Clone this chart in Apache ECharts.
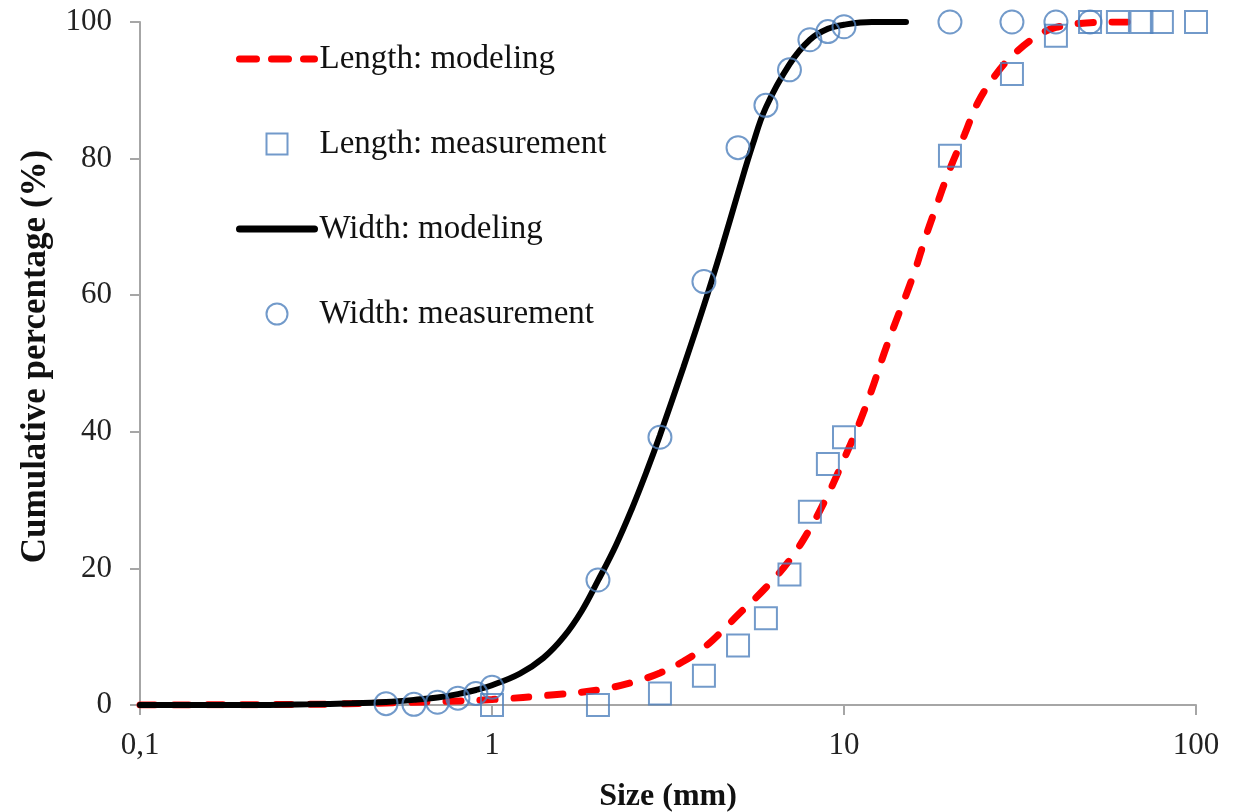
<!DOCTYPE html>
<html>
<head>
<meta charset="utf-8">
<title>Cumulative size distribution</title>
<script src="https://cdn.jsdelivr.net/npm/echarts@6/dist/echarts.min.js"></script>
<style>
  html, body { margin: 0; padding: 0; background: #fff; }
  #chart { width: 1243px; height: 812px; }
</style>
</head>
<body>
<div id="chart"></div>
<script>
// Measured cumulative percentages (size in mm)
const lengthMeasSize = [1, 2, 3, 4, 5, 6, 7, 8, 9, 10, 20, 30, 40, 50, 60, 70, 80, 100];
const lengthMeasPct  = [0, 0, 1.7, 4.3, 8.7, 12.7, 19.1, 28.3, 35.3, 39.2, 80.4, 92.4, 98, 100, 100, 100, 100, 100];

const widthMeasSize = [0.5, 0.6, 0.7, 0.8, 0.9, 1, 2, 3, 4, 5, 6, 7, 8, 9, 10, 20, 30, 40, 50];
const widthMeasPct  = [0.2, 0.1, 0.4, 1.0, 1.7, 2.6, 18.3, 39.2, 62.0, 81.6, 87.8, 93.0, 97.4, 98.6, 99.3, 100, 100, 100, 100];

// Modeled cumulative curves
const lengthModelSize = [0.1, 0.3, 0.5, 0.7, 1, 1.5, 2, 2.5, 3, 3.5, 4, 4.5, 5, 6, 7, 8, 9, 10, 11, 12, 13, 14, 15, 16, 17, 18, 20, 22, 24, 27, 30, 35, 40, 50, 60, 70];
const lengthModelPct  = [0, 0.1, 0.3, 0.5, 0.8, 1.5, 2.2, 3.3, 4.7, 6.4, 8.4, 10.8, 13.2, 17.2, 21.2, 25.8, 30.8, 36, 41, 46.2, 51.5, 56, 60, 64, 68.3, 72, 78.5, 83.5, 88.2, 92.3, 95, 97.8, 99.2, 99.9, 100, 100];

const widthModelSize = [0.1, 0.2, 0.3, 0.4, 0.5, 0.6, 0.7, 0.8, 0.9, 1, 1.2, 1.4, 1.6, 1.8, 2, 2.25, 2.5, 2.75, 3, 3.5, 4, 4.5, 5, 5.5, 6, 7, 8, 9, 10, 12, 15];
const widthModelPct  = [0, 0, 0.1, 0.25, 0.45, 0.75, 1.1, 1.6, 2.2, 2.9, 4.6, 6.9, 10.0, 13.8, 18.2, 23.4, 28.8, 34.2, 39.5, 49.5, 58.5, 67, 75, 82, 87.5, 93.8, 97.4, 99.0, 99.6, 100, 100];

// Axis ticks
const xTicks = [0.1, 1, 10, 100];
const yTicks = [0, 20, 40, 60, 80, 100];

const seriesNames = ['Length: modeling', 'Length: measurement', 'Width: modeling', 'Width: measurement'];

const pair = (xs, ys) => xs.map((x, i) => [x, ys[i]]);

const serif = "'Liberation Serif', 'Times New Roman', serif";
const axisGray = '#a6a6a6';
const markerBlue = '#4f81bd';
const hollow = 'rgba(255,255,255,0)';

const chart = echarts.init(document.getElementById('chart'), null, { renderer: 'canvas' });

chart.setOption({
  animation: false,
  backgroundColor: '#ffffff',
  grid: { left: 140, right: 47, top: 22, bottom: 107, containLabel: false, outerBoundsMode: 'none' },
  legend: {
    orient: 'vertical',
    left: 231,
    top: 36,
    itemWidth: 75,
    itemHeight: 21,
    itemGap: 49,
    textStyle: { fontFamily: serif, fontSize: 33, color: '#111', lineHeight: 36 },
    data: [
      { name: seriesNames[0], itemStyle: { opacity: 0 }, lineStyle: { width: 7, type: [17, 15], cap: 'round' } },
      { name: seriesNames[1], icon: 'path://M0,0H10V10H0Z' },
      { name: seriesNames[2], itemStyle: { opacity: 0 }, lineStyle: { width: 7, cap: 'round' } },
      { name: seriesNames[3], icon: 'circle' }
    ]
  },
  xAxis: {
    type: 'log',
    logBase: 10,
    min: xTicks[0],
    max: xTicks[xTicks.length - 1],
    name: 'Size (mm)',
    nameLocation: 'middle',
    nameGap: 76,
    nameTextStyle: { fontFamily: serif, fontSize: 32, fontWeight: 'bold', color: '#111' },
    axisLine: { show: true, lineStyle: { color: axisGray, width: 2 } },
    axisTick: { show: true, inside: false, length: 10, lineStyle: { color: axisGray, width: 2 } },
    minorTick: { show: false },
    splitLine: { show: false },
    axisLabel: {
      margin: 25,
      fontFamily: serif,
      fontSize: 31,
      color: '#222',
      formatter: v => String(v).replace('.', ',')
    }
  },
  yAxis: {
    type: 'value',
    min: yTicks[0],
    max: yTicks[yTicks.length - 1],
    interval: 20,
    name: 'Cumulative percentage (%)',
    nameLocation: 'middle',
    nameGap: 87,
    nameTextStyle: { fontFamily: serif, fontSize: 35, fontWeight: 'bold', color: '#111', padding: [0, 0, 0, 14] },
    axisLine: { show: true, lineStyle: { color: axisGray, width: 2 } },
    axisTick: { show: true, inside: false, length: 10, lineStyle: { color: axisGray, width: 2 } },
    splitLine: { show: false },
    axisLabel: { margin: 28, fontFamily: serif, fontSize: 31, color: '#222' }
  },
  series: [
    {
      name: seriesNames[0],
      type: 'line',
      data: pair(lengthModelSize, lengthModelPct),
      smooth: 0.4,
      symbol: 'none',
      z: 2,
      itemStyle: { color: '#ff0000' },
      lineStyle: { color: '#ff0000', width: 7, type: [15, 19], cap: 'round' }
    },
    {
      name: seriesNames[1],
      type: 'scatter',
      data: pair(lengthMeasSize, lengthMeasPct),
      symbol: 'rect',
      symbolSize: 22,
      z: 4,
      itemStyle: { color: hollow, borderColor: markerBlue, borderWidth: 2 }
    },
    {
      name: seriesNames[2],
      type: 'line',
      data: pair(widthModelSize, widthModelPct),
      smooth: 0.4,
      symbol: 'none',
      z: 3,
      itemStyle: { color: '#000000' },
      lineStyle: { color: '#000000', width: 6, cap: 'round' }
    },
    {
      name: seriesNames[3],
      type: 'scatter',
      data: pair(widthMeasSize, widthMeasPct),
      symbol: 'circle',
      symbolSize: 23,
      z: 4,
      itemStyle: { color: hollow, borderColor: markerBlue, borderWidth: 2 }
    }
  ]
});
</script>
</body>
</html>
